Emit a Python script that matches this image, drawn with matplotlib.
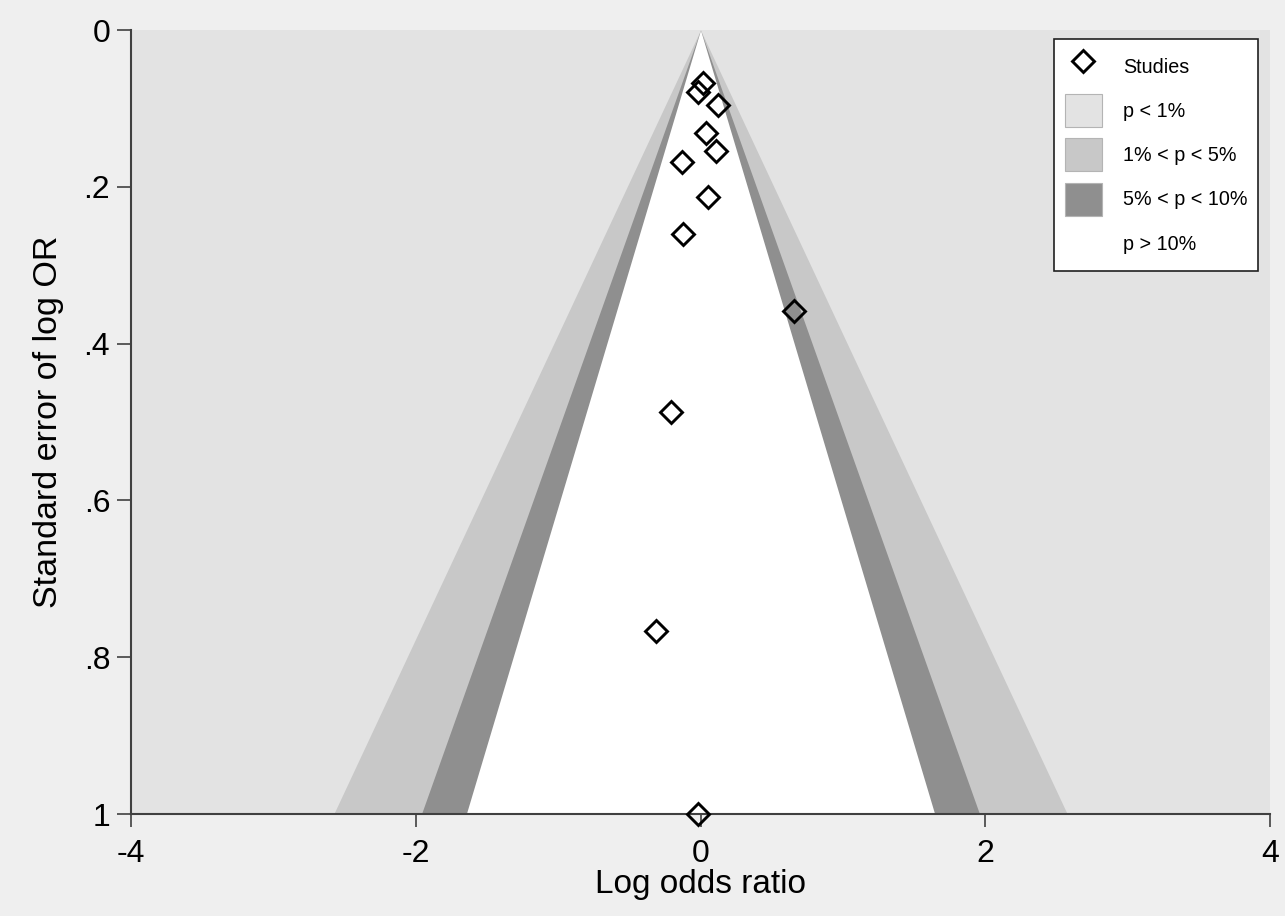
import numpy as np
import matplotlib
matplotlib.use("Agg")
import matplotlib.pyplot as plt
from matplotlib.patches import Patch
from matplotlib.lines import Line2D

plt.rcParams['font.family'] = ['Liberation Sans', 'DejaVu Sans']

# study estimates
log_or = [0.02, -0.02, 0.12, 0.04, 0.11, -0.13, 0.05, -0.12, 0.66, -0.21, -0.31, -0.02]
se_log_or = [0.068, 0.079, 0.096, 0.131, 0.154, 0.169, 0.213, 0.260, 0.358, 0.487, 0.766, 1.0]

# contour levels: z for p = 1%, 5%, 10%
z_levels = [2.576, 1.960, 1.645]
contour_labels = ["p < 1%", "1% < p < 5%", "5% < p < 10%", "p > 10%"]
contour_colors = ["#e3e3e3", "#c8c8c8", "#8f8f8f", "#ffffff"]

x_ticks = [-4, -2, 0, 2, 4]
y_ticks = [0, 0.2, 0.4, 0.6, 0.8, 1.0]
y_ticklabels = ["0", ".2", ".4", ".6", ".8", "1"]

fig = plt.figure(figsize=(12.85, 9.16), dpi=100, facecolor="#efefef")
ax = fig.add_axes([131 / 1285, 1 - 814 / 916, 1139 / 1285, 784 / 916])
ax.set_facecolor(contour_colors[0])

se = np.linspace(0, 1, 200)
for z, col in zip(z_levels, contour_colors[1:]):
    ax.fill_betweenx(se, -z * se, z * se, color=col, lw=0)

ax.plot(log_or, se_log_or, linestyle="none", marker="D", markersize=11.5,
        markerfacecolor="none", markeredgecolor="black", markeredgewidth=2.1,
        clip_on=False, zorder=5)

ax.set_xlim(-4, 4)
ax.set_ylim(1, 0)
ax.set_xticks(x_ticks)
ax.set_xticklabels([str(t) for t in x_ticks])
ax.set_yticks(y_ticks)
ax.set_yticklabels(y_ticklabels)
ax.tick_params(axis="both", direction="out", width=1.2, color="#404040", labelsize=23)
ax.tick_params(axis="x", length=9, pad=9)
ax.tick_params(axis="y", length=10, pad=5)
for s in ["top", "right"]:
    ax.spines[s].set_visible(False)
for s in ["left", "bottom"]:
    ax.spines[s].set_color("#404040")
    ax.spines[s].set_linewidth(1.5)
    ax.spines[s].set_zorder(4)

ax.set_xlabel("Log odds ratio", fontsize=24, labelpad=0)
ax.set_ylabel("Standard error of log OR", fontsize=24.5, labelpad=14)

handles = [Line2D([], [], linestyle="none", marker="D", markersize=11.5,
                  markerfacecolor="none", markeredgecolor="black", markeredgewidth=2.1)]
for col in contour_colors[:3]:
    handles.append(Patch(facecolor=col, edgecolor="#b4b4b4", linewidth=0.8))
handles.append(Patch(facecolor="white", edgecolor="white", linewidth=0))
leg = ax.legend(handles, ["Studies"] + contour_labels, loc="upper right",
                bbox_to_anchor=(0.9895, 0.9885), fontsize=14.2, frameon=True,
                fancybox=False, edgecolor="#202020", framealpha=1,
                handlelength=1.88, handleheight=2.2, labelspacing=0.57,
                handletextpad=1.07, borderpad=0.55, borderaxespad=0)
leg.get_frame().set_linewidth(1.2)

fig.savefig("out.png", dpi=100, facecolor=fig.get_facecolor())
